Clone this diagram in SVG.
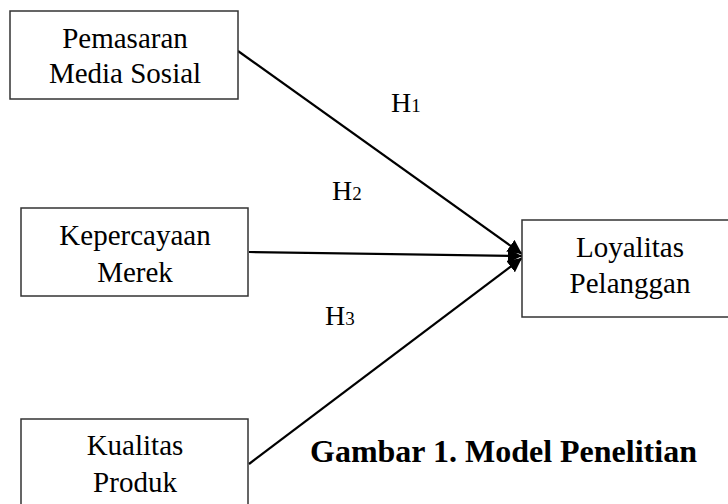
<svg xmlns="http://www.w3.org/2000/svg" width="728" height="504" viewBox="0 0 728 504">
<defs>
<marker id="ah" viewBox="0 0 10 10" refX="10" refY="5" markerWidth="6.5" markerHeight="6.5" markerUnits="strokeWidth" orient="auto">
<path d="M0,0 L10,5 L0,10 z" fill="#000"/>
</marker>
<style>
.box{fill:#fff;stroke:#333;stroke-width:1.5}
.t{font-family:"Liberation Serif","Times New Roman",serif;font-size:29px;fill:#000;text-anchor:middle}
.h{font-family:"Liberation Serif","Times New Roman",serif;font-size:28px;fill:#000}
.sub{font-size:19px}
.cap{font-family:"Liberation Serif","Times New Roman",serif;font-size:32px;font-weight:bold;fill:#000}
.c{stroke:#000;stroke-width:2.2;fill:none;marker-end:url(#ah)}
</style>
</defs>
<rect width="728" height="504" fill="#fff"/>
<g id="connectors">
<line class="c" x1="238" y1="51" x2="522" y2="254"/>
<line class="c" x1="249" y1="252" x2="522" y2="256"/>
<line class="c" x1="249" y1="464" x2="522" y2="258"/>
</g>
<g id="pemasaran">
<rect class="box" x="10" y="11" width="228" height="88"/>
<text class="t" x="125" y="48">Pemasaran</text>
<text class="t" x="125" y="83">Media Sosial</text>
</g>
<g id="kepercayaan">
<rect class="box" x="21" y="208" width="227" height="88"/>
<text class="t" x="135" y="245">Kepercayaan</text>
<text class="t" x="135" y="282">Merek</text>
</g>
<g id="kualitas">
<rect class="box" x="21" y="419" width="227" height="100"/>
<text class="t" x="135" y="455">Kualitas</text>
<text class="t" x="135" y="492">Produk</text>
</g>
<g id="loyalitas">
<rect class="box" x="522" y="220" width="216" height="97"/>
<text class="t" x="630" y="257">Loyalitas</text>
<text class="t" x="630" y="293">Pelanggan</text>
</g>
<g id="labels">
<text class="h" x="391" y="112">H<tspan class="sub">1</tspan></text>
<text class="h" x="332" y="200">H<tspan class="sub">2</tspan></text>
<text class="h" x="325" y="325">H<tspan class="sub">3</tspan></text>
<text class="cap" x="310" y="462">Gambar 1. Model Penelitian</text>
</g>
</svg>
